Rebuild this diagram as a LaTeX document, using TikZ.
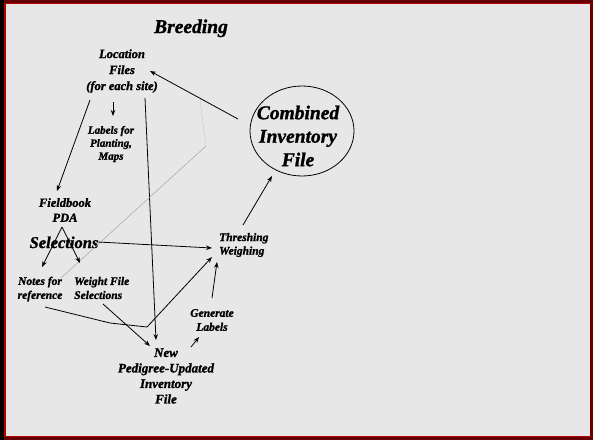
\documentclass[tikz,border=0pt]{standalone}
\usepackage{fontspec}
\setmainfont{Liberation Serif}[BoldItalicFeatures={FakeBold=1.3}]
\usetikzlibrary{arrows.meta,shapes.geometric}
\definecolor{bgray}{RGB}{231,231,231}
\definecolor{framered}{RGB}{100,0,0}
\definecolor{brightred}{RGB}{185,0,0}
\begin{document}
\begin{tikzpicture}[x=1pt,y=-1pt,
  lbl/.style 2 args={font=\bfseries\itshape\fontsize{#1}{#2}\selectfont, inner sep=0pt, align=center},
  arr/.style={draw=black, line width=0.8pt, -{Stealth[length=6pt,width=4.5pt]}},
  faint/.style={draw=gray!70, line width=0.5pt}
]
\useasboundingbox (0,0) rectangle (593,440);
\fill[bgray] (0,0) rectangle (593,440);
% frame
\fill[framered] (0,0) rectangle (593,3);
\fill[framered] (590,0) rectangle (593,440);
\fill[framered] (0,437) rectangle (593,440);
\fill[black] (0,0) rectangle (4,440);
\fill[brightred] (4,3) rectangle (5.5,437);
\fill[brightred] (4,3) rectangle (590,4);
\fill[brightred] (4,436.2) rectangle (590,437);

% nodes
\node[lbl={19.5}{23}, anchor=base] (breeding) at (191,33) {Breeding};
\node[lbl={12.5}{16}] (loc) at (122,71) {Location\\Files\\(for each site)};
\node[lbl={11}{13}] (lab) at (111,144) {Labels for\\Planting,\\Maps};
\node[lbl={12.5}{15}] (field) at (65,210) {Fieldbook\\PDA};
\node[lbl={16.5}{19}, anchor=base] (sel) at (64,248) {Selections};
\node[lbl={11.5}{14}] (notes) at (40,289) {Notes for\\reference};
\node[lbl={11.5}{14}, align=left, anchor=west] (weight) at (74,288) {Weight File\\Selections};
\node[lbl={11.5}{13.5}, align=left, anchor=west] (thresh) at (219,245) {Threshing\\Weighing};
\node[lbl={11.5}{14}] (gen) at (212,320) {Generate\\Labels};
\node[lbl={13}{15.5}] (new) at (166,376) {New\\Pedigree-Updated\\Inventory\\File};
\node[ellipse, draw, line width=0.8pt, minimum width=104pt, minimum height=90pt, inner sep=0pt] (comb) at (302,131) {};
\node[lbl={19.5}{23.5}] (combtxt) at (298,136) {Combined\\Inventory\\File};
\coordinate (kink) at (206,146);
\coordinate (dotstart) at (200,100);

% connectors
\draw[arr] ([shift={(-64,-12)}]comb.center) -- ([shift={(28,0)}]loc.center);
\draw[arr] ([shift={(-32,29)}]loc.center) -- ([shift={(-8,-19)}]field.center);
\draw[arr] ([shift={(23,27)}]loc.center) -- ([shift={(-10,-36)}]new.center);
\draw[arr] ([shift={(-9,31)}]loc.center) -- ([shift={(2,-28)}]lab.center);
\draw[faint, densely dotted] (dotstart) -- (kink);
\draw[faint] (kink) -- ([shift={(21,-11)}]notes.center);
\draw[arr] ([shift={(-3,17)}]field.center) -- ([shift={(2,-22)}]notes.center);
\draw[arr] ([shift={(-3,17)}]field.center) -- ([shift={(6,-25)}]weight.west);
\draw[arr] ([shift={(34,-6)}]sel.base) -- ([shift={(-7,3)}]thresh.west);
\draw[arr] ([shift={(5,18)}]notes.center) -- (110,323) -- (147,327) -- ([shift={(-7,12)}]thresh.west);
\draw[arr] ([shift={(29,16)}]weight.west) -- ([shift={(-16,-30)}]new.center);
\draw[arr] ([shift={(25,-29)}]new.center) -- ([shift={(-13,17)}]gen.center);
\draw[arr] ([shift={(0,-22)}]gen.center) -- ([shift={(-2,17)}]thresh.west);
\draw[arr] ([shift={(24,-20)}]thresh.west) -- ([shift={(-30,45)}]comb.center);
\end{tikzpicture}
\end{document}
